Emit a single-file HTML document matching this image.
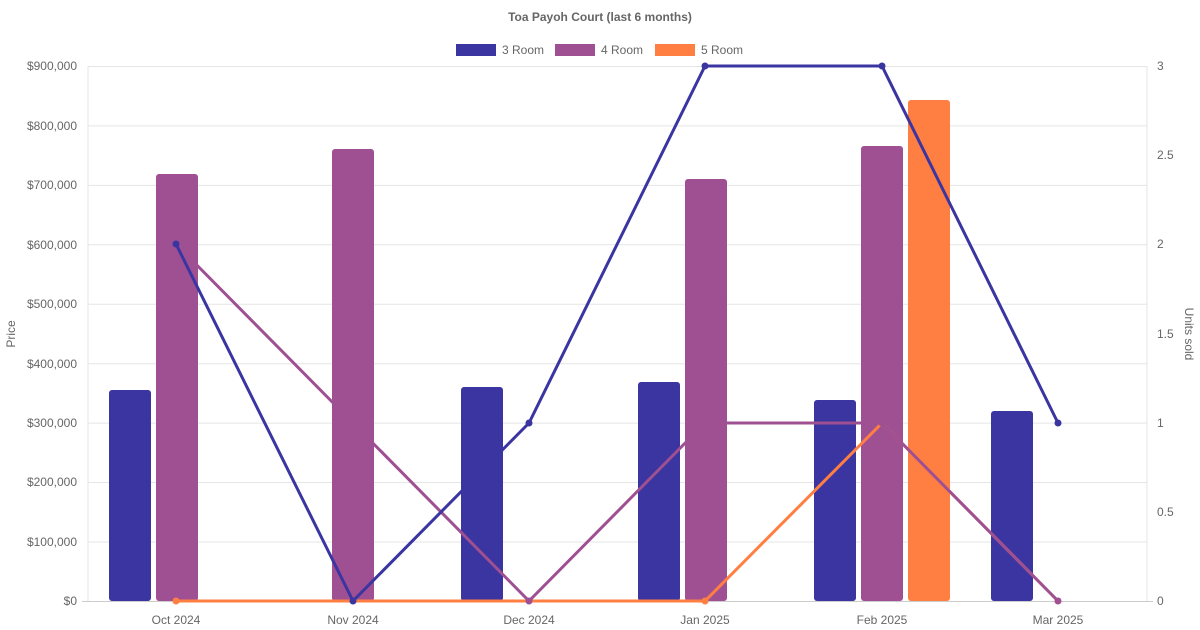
<!DOCTYPE html><html><head><style>body{margin:0;background:#fff}svg{display:block;font-family:"Liberation Sans",sans-serif}</style></head><body>
<svg width="1200" height="630" viewBox="0 0 1200 630">
<text x="600" y="21" text-anchor="middle" font-size="12" font-weight="bold" fill="#666">Toa Payoh Court (last 6 months)</text>
<rect x="456" y="44" width="40" height="12" fill="#3a35a0"/><text x="502" y="54" font-size="12" fill="#666">3 Room</text>
<rect x="555" y="44" width="40" height="12" fill="#9f5092"/><text x="601" y="54" font-size="12" fill="#666">4 Room</text>
<rect x="655" y="44" width="40" height="12" fill="#ff7f42"/><text x="701" y="54" font-size="12" fill="#666">5 Room</text>
<g stroke="#e5e5e5" stroke-width="1">
<line x1="88" y1="66.5" x2="1147" y2="66.5"/><line x1="88" y1="125.9" x2="1147" y2="125.9"/><line x1="88" y1="185.4" x2="1147" y2="185.4"/><line x1="88" y1="244.8" x2="1147" y2="244.8"/><line x1="88" y1="304.2" x2="1147" y2="304.2"/><line x1="88" y1="363.7" x2="1147" y2="363.7"/><line x1="88" y1="423.1" x2="1147" y2="423.1"/><line x1="88" y1="482.5" x2="1147" y2="482.5"/><line x1="88" y1="542" x2="1147" y2="542"/>
<line x1="88" y1="66" x2="88" y2="601"/><line x1="1147" y1="66" x2="1147" y2="601"/>
</g>
<line x1="82" y1="601.5" x2="1153" y2="601.5" stroke="#ccc"/>
<g font-size="12" fill="#666" text-anchor="end">
<text x="77" y="70">$900,000</text><text x="77" y="130">$800,000</text><text x="77" y="189">$700,000</text><text x="77" y="249">$600,000</text><text x="77" y="308">$500,000</text><text x="77" y="368">$400,000</text><text x="77" y="427">$300,000</text><text x="77" y="486">$200,000</text><text x="77" y="546">$100,000</text><text x="77" y="605">$0</text>
</g>
<g font-size="12" fill="#666">
<text x="1157" y="70">3</text><text x="1157" y="159">2.5</text><text x="1157" y="248">2</text><text x="1157" y="338">1.5</text><text x="1157" y="427">1</text><text x="1157" y="516">0.5</text><text x="1157" y="605">0</text>
</g>
<g font-size="12" fill="#666" text-anchor="middle">
<text x="176" y="624">Oct 2024</text><text x="353" y="624">Nov 2024</text><text x="529" y="624">Dec 2024</text><text x="705" y="624">Jan 2025</text><text x="882" y="624">Feb 2025</text><text x="1058" y="624">Mar 2025</text>
</g>
<text transform="translate(15,334) rotate(-90)" font-size="12" fill="#666" text-anchor="middle">Price</text>
<text transform="translate(1185,334) rotate(90)" font-size="12" fill="#666" text-anchor="middle">Units sold</text>
<g fill="#3a35a0">
<rect x="109" y="390" width="42" height="211" rx="3"/><rect x="461" y="387" width="42" height="214" rx="3"/><rect x="638" y="382" width="42" height="219" rx="3"/><rect x="814" y="400" width="42" height="201" rx="3"/><rect x="991" y="411" width="42" height="190" rx="3"/>
</g>
<g fill="#9f5092">
<rect x="156" y="174" width="42" height="427" rx="3"/><rect x="332" y="149" width="42" height="452" rx="3"/><rect x="685" y="179" width="42" height="422" rx="3"/><rect x="861" y="146" width="42" height="455" rx="3"/>
</g>
<rect x="908" y="100" width="42" height="501" rx="3" fill="#ff7f42"/>
<g fill="none" stroke-width="3">
<polyline stroke="#ff7f42" points="176,601 353,601 529,601 705,601 882,423 1058,601"/>
<polyline stroke="#9f5092" points="176,244 353,423 529,601 705,423 882,423 1058,601"/>
<polyline stroke="#3a35a0" points="176,244 353,601 529,423 705,66 882,66 1058,423"/>
</g>
<g fill="#ff7f42"><circle cx="176" cy="601" r="3.5"/><circle cx="705" cy="601" r="3.5"/></g>
<g fill="#9f5092"><circle cx="529" cy="601" r="3.5"/><circle cx="1058" cy="601" r="3.5"/><circle cx="882" cy="423" r="3.5"/></g>
<g fill="#3a35a0"><circle cx="176" cy="244" r="3.5"/><circle cx="353" cy="601" r="3.5"/><circle cx="529" cy="423" r="3.5"/><circle cx="705" cy="66" r="3.5"/><circle cx="882" cy="66" r="3.5"/><circle cx="1058" cy="423" r="3.5"/></g>
</svg>
</body></html>
